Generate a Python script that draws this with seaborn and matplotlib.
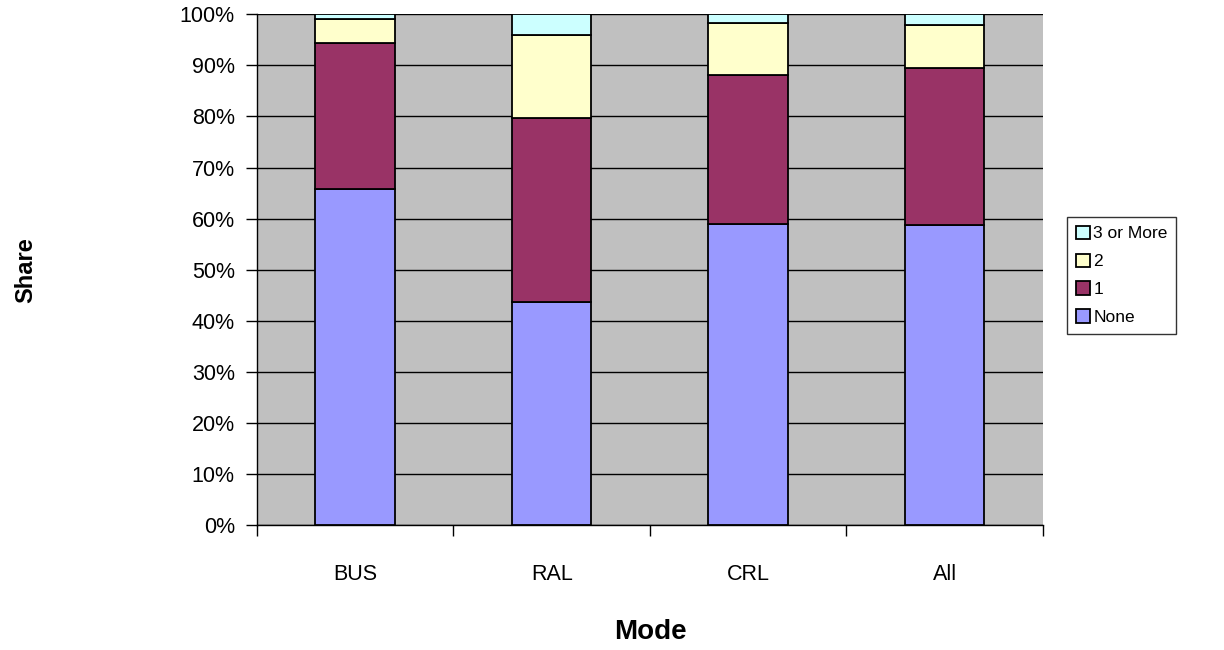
import numpy as np
import pandas as pd
import matplotlib
matplotlib.use("Agg")
import matplotlib.pyplot as plt
import seaborn as sns

# Share of trips by number of transfers, per mode (percent)
modes = ["BUS", "RAL", "CRL", "All"]
share_none = [65.9, 43.7, 58.9, 58.7]
share_one = [28.4, 36.0, 29.2, 30.8]
share_two = [4.7, 16.2, 10.1, 8.5]
share_three_plus = [1.0, 4.1, 1.8, 2.0]

series_names = ["None", "1", "2", "3 or More"]
series_colors = ["#9999FF", "#993366", "#FFFFCC", "#CCFFFF"]
y_ticks = list(range(0, 101, 10))
y_tick_labels = [f"{v}%" for v in y_ticks]

sns.set_theme(style="white")
plt.rcParams["font.family"] = ["Liberation Sans", "DejaVu Sans"]
plt.rcParams["text.color"] = "black"
plt.rcParams["xtick.color"] = "black"
plt.rcParams["ytick.color"] = "black"
plt.rcParams["axes.labelcolor"] = "black"

fig = plt.figure(figsize=(12.24, 6.5), dpi=100)
ax = fig.add_axes([0.21, 0.192, 0.642, 0.786])
ax.set_facecolor("#C0C0C0")

layers = [share_none, share_one, share_two, share_three_plus]
bottom = np.zeros(len(modes))
for name, values, color in zip(series_names, layers, series_colors):
    df = pd.DataFrame({"mode": modes, "share": values})
    sns.barplot(data=df, x="mode", y="share", bottom=bottom, color=color,
                saturation=1, edgecolor="black", linewidth=1.3, width=0.405,
                ax=ax, label=name, zorder=3)
    bottom = bottom + np.array(values)

ax.set_ylim(0, 100)
ax.set_xlim(-0.5, len(modes) - 0.5)
ax.set_yticks(y_ticks)
ax.set_yticklabels(y_tick_labels, fontsize=15.5)
ax.yaxis.grid(True, color="black", linewidth=1.0, zorder=0)
ax.set_axisbelow(True)
ax.tick_params(axis="y", length=8, width=1, color="black", pad=8, left=True)
ax.tick_params(axis="x", length=0, pad=28, labelsize=15.5)

# minor ticks between categories along the bottom
ax.set_xticks(np.arange(-0.5, len(modes), 1.0), minor=True)
ax.tick_params(axis="x", which="minor", length=8, width=1, color="black",
               direction="out", bottom=True)

for side in ["top", "right"]:
    ax.spines[side].set_visible(False)
for side in ["left", "bottom"]:
    ax.spines[side].set_color("black")
    ax.spines[side].set_linewidth(1.0)

ax.set_xlabel("")
ax.set_ylabel("")
fig.text(0.531, 0.028, "Mode", fontsize=20, fontweight="bold",
         ha="center", va="center")
fig.text(0.021, 0.585, "Share", fontsize=17, fontweight="bold",
         ha="center", va="center", rotation=90)

h, l = ax.get_legend_handles_labels()
leg = fig.legend(h[::-1], l[::-1], loc="upper left",
                 bbox_to_anchor=(0.872, 0.666), frameon=True, fontsize=12.5,
                 handlelength=0.8, handleheight=0.8, handletextpad=0.2,
                 labelspacing=0.7, borderpad=0.5, fancybox=False,
                 borderaxespad=0)
leg.get_frame().set_edgecolor("black")
leg.get_frame().set_linewidth(1.0)
if ax.get_legend() is not None:
    ax.get_legend().remove()

fig.savefig("out.png", dpi=100, facecolor="white")
